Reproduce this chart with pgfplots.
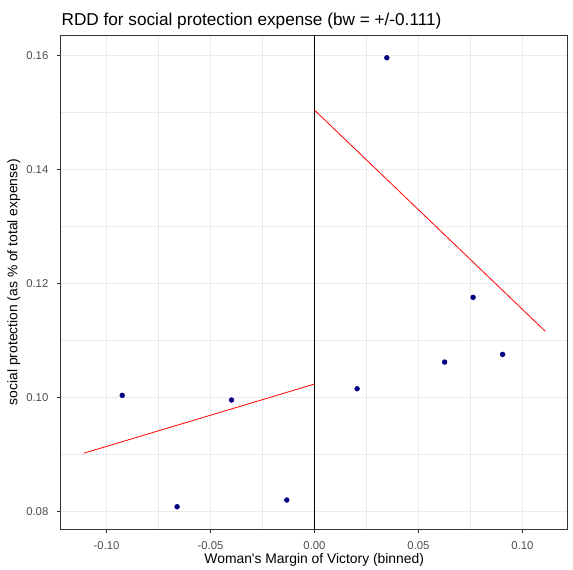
\documentclass[border=0pt]{standalone}
\usepackage{fontspec}
\setmainfont{Liberation Sans}
\usepackage{pgfplots}
\pgfplotsset{compat=1.18}
\definecolor{grid92}{HTML}{EBEBEB}
\definecolor{grey20}{HTML}{333333}
\definecolor{grey30}{HTML}{4D4D4D}
\definecolor{ptnavy}{HTML}{000080}

\begin{document}
\begin{tikzpicture}
\useasboundingbox (0,0) rectangle (429.75pt,-426.75pt);
\begin{axis}[
  at={(45.5pt,-397pt)}, anchor=south west,
  scale only axis, width=380.25pt, height=370.7pt,
  xmin=-0.1221, xmax=0.1218, ymin=0.07684, ymax=0.16356,
  xtick={-0.1,-0.05,0,0.05,0.1},
  xticklabels={-0.10,-0.05,0.00,0.05,0.10},
  ytick={0.08,0.10,0.12,0.14,0.16},
  yticklabels={0.08,0.10,0.12,0.14,0.16},
  minor xtick={-0.075,-0.025,0.025,0.075},
  minor ytick={0.09,0.11,0.13,0.15},
  grid=both,
  major grid style={grid92, line width=0.8pt},
  minor grid style={grid92, line width=0.4pt},
  axis line style={grey20, line width=0.8pt},
  tick style={grey20, line width=0.8pt},
  major tick length=2.75pt, minor tick length=0pt,
  tick align=outside, xtick pos=left, ytick pos=left,
  ticklabel style={font=\fontsize{8.5}{10}\selectfont, text=grey30, inner sep=0pt},
  xticklabel style={anchor=base, yshift=-12.5pt},
  yticklabel style={anchor=east, xshift=-6.3pt},
]
% cutoff at zero margin
\addplot[black, line width=0.6pt] coordinates {(0,0.07684) (0,0.16356)};
% local linear fits on each side of the cutoff
\addplot[red, line width=0.6pt] coordinates {(-0.111,0.0902) (0,0.10233)};
\addplot[red, line width=0.6pt] coordinates {(0,0.1504) (0.111,0.1116)};
% binned means
\addplot[only marks, mark=*, mark size=1.8pt, color=ptnavy] coordinates {
  (-0.0925,0.10035) (-0.0661,0.08081) (-0.0399,0.09953) (-0.0133,0.08198)
  (0.0205,0.10151) (0.0348,0.15958) (0.0626,0.10619) (0.0763,0.11754)
  (0.0905,0.10754)
};
\end{axis}
\node[anchor=base west, inner sep=0pt, font=\fontsize{12.9}{15}\selectfont]
  at (46pt,-18.75pt) {RDD for social protection expense (bw = +/-0.111)};
\node[anchor=base, inner sep=0pt, font=\fontsize{10.4}{12}\selectfont]
  at (235.65pt,-422.25pt) {Woman\textquotesingle s Margin of Victory (binned)};
\node[rotate=90, anchor=base, inner sep=0pt, font=\fontsize{10.4}{12}\selectfont]
  at (13.1pt,-211.6pt) {social protection (as \% of total expense)};
\end{tikzpicture}
\end{document}
